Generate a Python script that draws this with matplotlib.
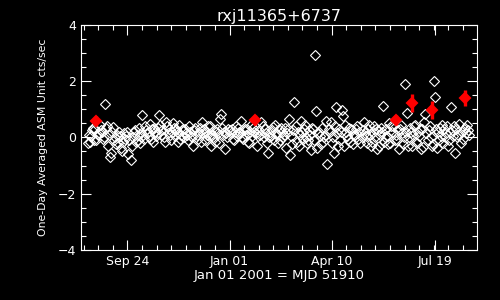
import numpy as np
import matplotlib
matplotlib.use("Agg")
import matplotlib.pyplot as plt
from matplotlib.ticker import FixedLocator

# days from Jan 01 2001 (MJD 51910), one-day averaged rates
days = [
    -137, -135, -134, -133, -131, -130, -128, -127, -126, -124,
    -123, -121, -120, -119, -118, -117, -116, -115, -114, -113,
    -112, -111, -109, -108, -106, -105, -104, -102, -101, -99,
    -98, -97, -96, -94, -93, -91, -90, -88, -87, -85,
    -84, -83, -81, -80, -78, -77, -75, -74, -72, -71,
    -69, -68, -66, -65, -63, -62, -60, -59, -57, -56,
    -55, -53, -52, -50, -49, -47, -46,
    -44, -43, -41, -40, -38, -37, -35, -34, -32, -31,
    -29, -27, -26, -24, -23, -21, -20, -18, -17, -15,
    -14, -12, -11, -9, -8, -6, -5, -4, -2, -1,
    1, 2, 4, 5, 7, 8, 10, 11, 13, 14,
    16, 17, 19, 20, 22, 23, 26, 27, 29, 30,
    31, 33, 34, 36, 37, 39, 40, 42, 43, 45,
    46, 48, 49, 51, 52, 54, 55, 56, 58, 59,
    60, 62, 63, 65, 66, 68, 69, 71, 72, 74,
    75, 77, 78, 79, 81, 82, 83, 84, 85, 87,
    88, 90, 91, 93, 94, 95,
    97, 98, 100, 101, 103, 104, 106, 107, 109, 110,
    111, 113, 114, 116, 117, 119, 120, 122, 123, 125,
    126, 128, 130, 131, 133, 134, 136, 137,
    139, 140, 141, 143, 144, 146, 147, 149, 150, 152,
    153, 155, 156, 158, 159, 161, 162, 164, 165, 167,
    168, 170, 171, 172, 174, 175, 177, 178, 180, 181,
    183, 184, 186, 187, 189, 190, 192, 193, 195, 196,
    198, 199, 201, 202, 204, 205, 207, 208, 210, 211,
    213, 214, 215, 217, 219, 220, 222, 223, 225, 226,
    228, 229, 231,
]
rates = [
    -0.2, -0.15, 0.05, 0.25, -0.1, 0.3, 0.1, 0.15, 0.45, 0.2,
    -0.05, 1.18, 0.35, 0.4, -0.32, 0.1, -0.68, -0.55, 0.2, 0.38,
    -0.1, 0.0, 0.1, -0.2, 0.05, -0.36, -0.5, 0.15, -0.05, 0.2,
    -0.6, -0.1, -0.8, 0.0, 0.2, -0.15, 0.1, 0.35, -0.2, 0.78,
    0.1, -0.05, 0.25, 0.15, 0.0, 0.46, 0.3, -0.18, 0.2, 0.05,
    0.35, 0.78, 0.1, 0.25, -0.18, 0.56, 0.15, 0.3, -0.1, 0.2,
    0.52, 0.05, 0.3, -0.15, 0.45, 0.1, 0.25,
    0.0, 0.3, 0.1, -0.1, 0.2, 0.05, -0.32, 0.25, 0.1, -0.05,
    0.35, 0.53, 0.15, -0.1, 0.2, 0.4, 0.05, -0.32, 0.1, 0.25,
    -0.15, 0.3, 0.15, 0.64, 0.82, 0.1, 0.2, -0.43, 0.0, 0.3,
    0.15, 0.3, -0.1, 0.2, 0.05, 0.35, 0.15, 0.57, -0.05, 0.25,
    0.1, 0.3, -0.2, 0.2, 0.05, 0.35, 0.15, -0.32, 0.25, 0.1,
    0.53, 0.0, 0.3, -0.2, -0.54, 0.2, 0.05, 0.36, -0.1, 0.15,
    0.1, 0.3, -0.1, 0.2, 0.0, 0.35, -0.36, 0.15, 0.64, -0.64,
    0.05, 0.25, 1.25, -0.15, 0.2, 0.1, 0.6, -0.05, 0.3, 0.0,
    -0.2, 0.25, 0.1, -0.46, 0.3, -0.1, 2.93, 0.93, -0.36, 0.2,
    0.05, 0.35, -0.15, 0.1, 0.6, -0.93,
    0.2, 0.54, 0.0, -0.54, 1.07, 0.15, 0.3, -0.1, 0.96, 0.75,
    -0.32, 0.2, 0.05, 0.35, -0.15, 0.25, -0.25, 0.1, 0.3, -0.05,
    0.2, 0.0, 0.53, 0.15, -0.2, 0.3, 0.1, -0.3,
    0.2, 0.4, 0.0, -0.43, 0.25, 0.1, 0.35, 1.1, -0.15, 0.3,
    0.05, 0.5, -0.2, 0.2, 0.4, 0.1, -0.1, -0.4, 0.3, 0.15,
    -0.25, 1.89, 0.2, 0.88, 0.0, 0.35, -0.3, 0.1, 0.45, -0.15,
    0.2, 0.05, -0.43, 0.3, 0.53, 0.82, -0.1, 0.25, 0.0, -0.3,
    2.0, 1.43, -0.36, 0.2, 0.35, 0.05, -0.2, 0.3, 0.15, 0.4,
    -0.1, 0.2, 1.07, 0.05, -0.54, 0.3, 0.1, 0.46, 0.2, -0.05,
    0.35, 0.15, 0.25,
]

# the remaining days, all inside the main band
band_days = [
    -136, -132, -129, -125, -122, -110, -107, -103, -100, -95,
    -92, -89, -86, -82, -79, -76, -73, -70, -67, -64,
    -61, -58, -54, -51, -48, -45, -42, -39, -36, -33,
    -30, -28, -25, -22, -19, -16, -13, -10, -7, -3,
    0, 3, 6, 9, 12, 15, 18, 21, 24, 28,
    32, 35, 38, 41, 44, 47, 50, 53, 57, 61,
    64, 67, 70, 73, 76, 80, 86, 89, 92, 96,
    99, 102, 105, 108, 112, 115, 118, 121, 124, 127,
    129, 132, 135, 138, 142, 145, 148, 151, 154, 157,
    160, 163, 166, 169, 173, 176, 179, 182, 185, 188,
    191, 194, 197, 200, 203, 206, 209, 212, 216, 218,
    221, 224, 227, 230, 232,
]
band_rates = [
    0.1, 0.35, -0.1, 0.25, 0.0, -0.25, 0.2, -0.15, 0.05, -0.3,
    0.25, -0.1, 0.15, 0.4, 0.2, -0.05, 0.35, 0.15, 0.45, 0.0,
    0.4, 0.1, 0.35, 0.2, -0.05, 0.3, 0.15, 0.4, 0.0, 0.35,
    0.2, -0.15, 0.3, 0.1, 0.4, 0.0, 0.2, -0.2, 0.35, 0.15,
    0.25, -0.05, 0.4, 0.2, 0.0, 0.3, -0.15, 0.45, 0.2, 0.05,
    0.4, 0.15, 0.0, 0.25, 0.45, -0.2, 0.35, 0.1, 0.3, -0.25,
    0.4, -0.3, 0.2, 0.45, -0.1, 0.35, 0.15, -0.25, 0.0, 0.3,
    -0.2, 0.4, -0.3, 0.2, 0.45, -0.05, 0.3, 0.1, 0.4, -0.2,
    0.25, 0.05, 0.45, -0.15, 0.3, -0.3, 0.2, 0.0, -0.25, 0.4,
    -0.1, 0.25, 0.45, 0.0, -0.3, 0.2, 0.4, -0.2, 0.3, -0.35,
    0.15, 0.4, -0.25, 0.3, -0.1, 0.45, 0.0, -0.3, 0.25, 0.4,
    0.0, -0.2, 0.3, 0.45, 0.1,
]

# binned points with error bars
bin_days = [-129, 25, 161, 177, 196, 228]
bin_rates = [0.58, 0.63, 0.62, 1.22, 0.98, 1.40]
bin_errs = [0.17, 0.18, 0.18, 0.32, 0.32, 0.27]

tick_days = [-99, 0, 99, 199]
tick_labels = ["Sep 24", "Jan 01", "Apr 10", "Jul 19"]

fig = plt.figure(figsize = (5, 3), dpi = 100, facecolor = "black")
ax = fig.add_axes([0.162, 0.167, 0.792, 0.75])
ax.set_facecolor("black")

for x, y in [(days, rates), (band_days, band_rates)]:
    ax.plot(x, y, linestyle = "none", marker = "D", markersize = 5.4,
            markerfacecolor = "none", markeredgecolor = "white", markeredgewidth = 0.8)

ax.errorbar(bin_days, bin_rates, yerr = bin_errs, fmt = "D", color = "red",
            markersize = 5.5, elinewidth = 2.4, capsize = 0, markeredgewidth = 1.5)

ax.set_xlim(-144, 240)
ax.set_ylim(-4, 4)

ax.set_xticks(tick_days)
ax.set_xticklabels(tick_labels)
ax.xaxis.set_minor_locator(FixedLocator(np.arange(-198, 260, 99 / 7)))
ax.set_yticks([-4, -2, 0, 2, 4])
ax.yaxis.set_minor_locator(FixedLocator(np.arange(-4, 4.01, 0.5)))

ax.tick_params(which = "both", direction = "in", colors = "white",
               top = True, right = True, labelsize = 9, width = 0.8)
ax.tick_params(which = "major", length = 7)
ax.tick_params(which = "minor", length = 3.5)

for spine in ax.spines.values():
    spine.set_color("white")
    spine.set_linewidth(0.8)

ax.set_title("rxj11365+6737", color = "white", fontsize = 11.5, pad = 3)
ax.set_xlabel("Jan 01 2001 = MJD 51910", color = "white", fontsize = 9.5, labelpad = 1)
ax.set_ylabel("One-Day Averaged ASM Unit cts/sec", color = "white", fontsize = 7.8, labelpad = 7)

fig.savefig("out.png", dpi = 100, facecolor = "black")
